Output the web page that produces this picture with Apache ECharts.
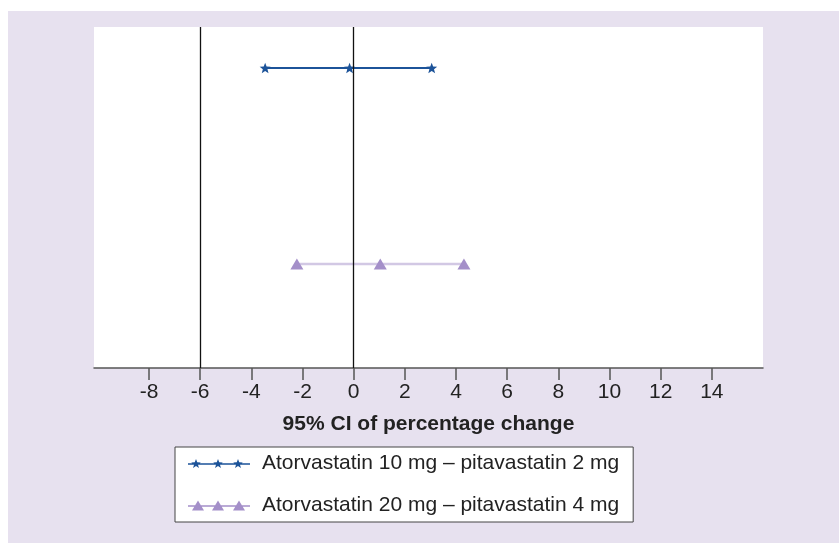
<!DOCTYPE html>
<html><head><meta charset="utf-8">
<script src="https://cdn.jsdelivr.net/npm/echarts@6/dist/echarts.min.js"></script>
<style>
html,body{margin:0;padding:0;background:#fff;}
#wrap{position:relative;width:839px;height:543px;overflow:hidden;}
#bg{position:absolute;left:8px;top:11px;right:0;bottom:0;background:#E7E1EF;}
#c{position:absolute;left:0;top:0;width:839px;height:543px;}
</style>
</head><body>
<div id="wrap"><div id="bg"></div><div id="c"></div></div>
<script>
// ---- data ----
const seriesNames = ['Atorvastatin 10 mg – pitavastatin 2 mg', 'Atorvastatin 20 mg – pitavastatin 4 mg'];
const ci1 = [-3.46, -0.16, 3.05];   // lower, point, upper
const ci2 = [-2.22, 1.04, 4.31];
const rowY = [8.8, 3.05];
const tickValues = [-8, -6, -4, -2, 0, 2, 4, 6, 8, 10, 12, 14];
const refLines = [-6, 0];
const axisTitle = '95% CI of percentage change';

// ---- symbols ----
function starPts(cx, cy, R, r) {
  const pts = [];
  for (let i = 0; i < 10; i++) {
    const a = (-90 + i * 36) * Math.PI / 180;
    const rad = i % 2 === 0 ? R : r;
    pts.push((cx + rad * Math.cos(a)).toFixed(3) + ',' + (cy + rad * Math.sin(a)).toFixed(3));
  }
  return 'M' + pts.join(' L') + ' Z';
}
const starSymbol = 'path://' + starPts(0, 0, 5, 2.1);
function lineRect(x0, x1, y, h) {
  return 'M' + x0 + ',' + (y - h / 2) + ' L' + x1 + ',' + (y - h / 2) + ' L' + x1 + ',' + (y + h / 2) + ' L' + x0 + ',' + (y + h / 2) + ' Z';
}
const starIcon = 'path://' + lineRect(0, 62, 5, 1.6) + ' ' + [8, 30, 50].map(c => starPts(c, 5, 5, 2.1)).join(' ');
function tri(cx) { return 'M' + cx + ',0 L' + (cx + 6) + ',10 L' + (cx - 6) + ',10 Z'; }
const triIcon = 'path://' + lineRect(0, 62, 5.5, 1.6) + ' ' + [10, 30, 51].map(tri).join(' ');

const FONT = '"Liberation Sans", Arial, sans-serif';
const chart = echarts.init(document.getElementById('c'), null, {renderer: 'canvas'});
chart.setOption({
  animation: false,
  backgroundColor: 'transparent',
  grid: {left: 94, right: 76, top: 27, bottom: 175, show: true, backgroundColor: '#fff', borderWidth: 0},
  xAxis: {
    type: 'value', min: -10.15, max: 16,
    axisLine: {show: true, onZero: false, lineStyle: {color: '#555', width: 1.5}},
    axisTick: {show: true, customValues: tickValues, length: 12, lineStyle: {color: '#555', width: 1.5}},
    axisLabel: {customValues: tickValues, fontSize: 21, color: '#222', margin: 14, fontFamily: FONT},
    splitLine: {show: false},
    name: axisTitle, nameLocation: 'middle', nameGap: 46,
    nameTextStyle: {fontSize: 21, fontWeight: 'bold', color: '#222', fontFamily: FONT}
  },
  yAxis: {type: 'value', min: 0, max: 10, show: false},
  legend: {
    orient: 'vertical', left: 175, top: 447,
    itemWidth: 62, itemHeight: 10, itemGap: 21,
    backgroundColor: '#fff', borderColor: '#444', borderWidth: 1,
    padding: [6, 14, 6, 13],
    textStyle: {fontSize: 21, color: '#222', fontFamily: FONT, padding: [0, 0, 0, 7]},
    data: [{name: seriesNames[0], icon: starIcon}, {name: seriesNames[1], icon: triIcon}]
  },
  series: [
    {
      name: seriesNames[0], type: 'line',
      data: ci1.map(v => [v, rowY[0]]),
      symbol: starSymbol, symbolSize: 11, symbolKeepAspect: true,
      lineStyle: {color: '#1C5399', width: 2},
      itemStyle: {color: '#1C5399'},
      markLine: {
        silent: true, symbol: ['none', 'none'], label: {show: false},
        lineStyle: {color: '#111', width: 1.3, type: 'solid'},
        data: refLines.map(v => ({xAxis: v}))
      },
      z: 3
    },
    {
      name: seriesNames[1], type: 'line',
      data: ci2.map(v => [v, rowY[1]]),
      symbol: 'triangle', symbolSize: [13, 11],
      lineStyle: {color: '#D2C8E4', width: 2.5},
      itemStyle: {color: '#A48FC9'},
      z: 3
    }
  ]
});
</script>
</body></html>
